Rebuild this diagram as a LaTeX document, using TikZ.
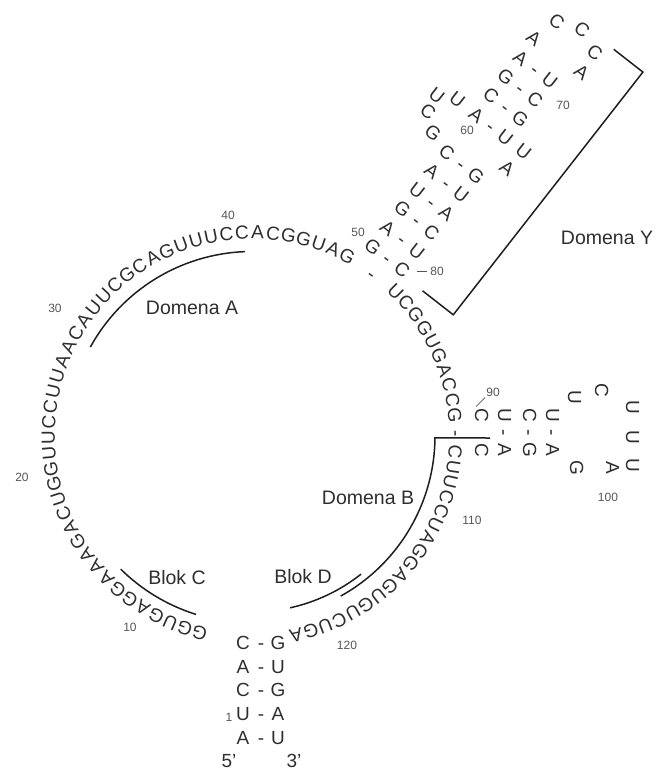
\documentclass[tikz,border=0pt]{standalone}
\usepackage{fontspec}
\setmainfont{Liberation Sans}
\definecolor{seq}{HTML}{2E2E2E}
\definecolor{numc}{HTML}{555555}
\definecolor{linec}{HTML}{1E1E1E}
\begin{document}
\begin{tikzpicture}[x=1pt,y=1pt,
  nt/.style={font=\fontsize{19}{19}\selectfont, inner sep=0pt, text height=13.6pt, text depth=0pt, text=seq},
  num/.style={font=\fontsize{12}{12}\selectfont, inner sep=0pt, text=numc},
  lab/.style={font=\fontsize{19.5}{19.5}\selectfont, inner sep=0pt, text=seq},
  ln/.style={line width=1.5pt, draw=linec}]
\useasboundingbox (0,0) rectangle (670,-774);
\coordinate (ctr) at (252,-436);
% main loop 5-49
\foreach \ch [count=\i from 5] in {G,G,U,G,A,G,G,A,A,A,G,A,C,U,G,G,U,U,C,C,U,U,A,A,C,A,U,U,C,G,C,A,G,U,U,U,C,C,A,C,G,G,U,A,G}{
  \pgfmathsetmacro\ang{255.1-(\i-5)*4.386}
  \pgfmathsetmacro\rot{\ang-90}
  \node[nt, rotate=\rot] (n\i) at ([shift={(\ang:204)}]ctr) {\ch};
}
% 81-90
\foreach \ch [count=\i from 81] in {U,C,G,G,U,G,A,C,C,G}{
  \pgfmathsetmacro\ang{45.2-(\i-81)*4.38}
  \pgfmathsetmacro\rot{\ang-90}
  \node[nt, rotate=\rot] (n\i) at ([shift={(\ang:204)}]ctr) {\ch};
}
% 106-123
\foreach \ch [count=\i from 106] in {C,U,U,C,C,U,A,G,G,A,G,U,G,U,C,U,G,A}{
  \pgfmathsetmacro\ang{-4.4-(\i-106)*4.3}
  \pgfmathsetmacro\rot{\ang-90}
  \node[nt, rotate=\rot] (n\i) at ([shift={(\ang:204)}]ctr) {\ch};
}
\node[nt, rotate=-36.4] (p49) at ([shift={(53.6:202)}]ctr) {-};
\node[nt, rotate=-89.3] (p90) at ([shift={(0.7:205)}]ctr) {-};
% stem
\foreach \l/\r/\y [count=\k] in {C/G/643, A/U/667, C/G/690, U/A/714, A/U/738}{
  \node[nt] (sl\k) at (243,-\y) {\l};
  \node[nt] (sd\k) at (261,-\y) {-};
  \node[nt] (sr\k) at (278,-\y) {\r};
}
\node[nt] (e5) at (229,-761) {5'};
\node[nt] (e3) at (294,-761) {3'};
\node[num] (m1) at (229,-717) {1};
% domain Y hairpin
\begin{scope}[shift={(373,-247)}, rotate=-38, every node/.append style={rotate=-38}]
\foreach \l/\r/\y [count=\k from 0] in {G/C/0, A/U/24, G/C/48, U/A/72, A/U/96, C/G/120, A/U/168, C/G/192, G/C/216, A/U/240}{
  \node[nt] (yl\k) at (0,\y) {\l};
  \node[nt] (yd\k) at (18.5,\y) {-};
  \node[nt] (yr\k) at (37,\y) {\r};
}
\node[nt] (y56) at (-23,127) {G};
\node[nt] (y57) at (-40,141) {C};
\node[nt] (y58) at (-43,159) {U};
\node[nt] (y59) at (-24,168) {U};
\node[nt] (y73) at (60,168) {U};
\node[nt] (y74) at (57,145) {A};
\node[nt] (y64) at (-2,264) {A};
\node[nt] (y65) at (6,291) {C};
\node[nt] (y66) at (31,300) {C};
\node[nt] (y67) at (55,290) {C};
\node[nt] (y68) at (57,266) {A};
\draw[ln] (68,304) -- (105,304) -- (105,-4) -- (66,-4);
\end{scope}
% 90-100 hairpin
\foreach \t/\b/\x [count=\k] in {C/C/482, U/A/505, C/G/530, U/A/553}{
  \node[nt, rotate=-90] (ht\k) at (\x,-415) {\t};
  \node[nt, rotate=-90] (hb\k) at (\x,-450) {\b};
}
\foreach \x [count=\k] in {505,530,553}{
  \node[nt, rotate=-90] (hd\k) at (\x,-433) {-};
}
\node[nt, rotate=-90] (h95) at (575,-397) {U};
\node[nt, rotate=-90] (h96) at (602,-390) {C};
\node[nt, rotate=-90] (h97) at (633,-407) {U};
\node[nt, rotate=-90] (h98) at (633,-437) {U};
\node[nt, rotate=-90] (h99) at (633,-465) {U};
\node[nt, rotate=-90] (h100) at (613,-468) {A};
\node[nt, rotate=-90] (h101) at (577,-468) {G};
% domain lines
\draw[ln] ([shift={(151.2:184.5)}]ctr) arc[start angle=151.2, end angle=92.2, radius=184.5];
\draw[ln] ([shift={(225.4:187)}]ctr) arc[start angle=225.4, end angle=252.6, radius=187];
\draw[ln] ([shift={(-77.5:176)}]ctr) arc[start angle=-77.5, end angle=-51.7, radius=176];
\draw[ln] (490,-438) -- ([shift={(-0.6:183)}]ctr) arc[start angle=-0.6, end angle=-61, radius=183];
% labels
\node[lab] (la) at (192,-308) {Domena A};
\node[lab] (lb) at (368,-498) {Domena B};
\node[lab] (lc) at (177,-578) {Blok C};
\node[lab] (ld) at (303,-577) {Blok D};
\node[lab] (ly) at (607,-238) {Domena Y};
% numbers
\node[num] (k10) at (130,-627) {10};
\node[num] (k20) at (22,-477) {20};
\node[num] (k30) at (55,-308) {30};
\node[num] (k40) at (228,-215) {40};
\node[num] (k50) at (358,-232) {50};
\node[num] (k60) at (467,-130) {60};
\node[num] (k70) at (563,-105) {70};
\node[num] (k80) at (437,-271) {80};
\node[num] (k90) at (493,-392) {90};
\node[num] (k100) at (608,-497) {100};
\node[num] (k110) at (472,-520) {110};
\node[num] (k120) at (347,-645) {120};
\draw[numc, line width=0.6pt] (k80.west) ++(-3,0) -- ++(-10,0);
\draw[numc, line width=0.6pt] (k90.south west) ++(-1,-1) -- ++(-9,-9);
\end{tikzpicture}
\end{document}
